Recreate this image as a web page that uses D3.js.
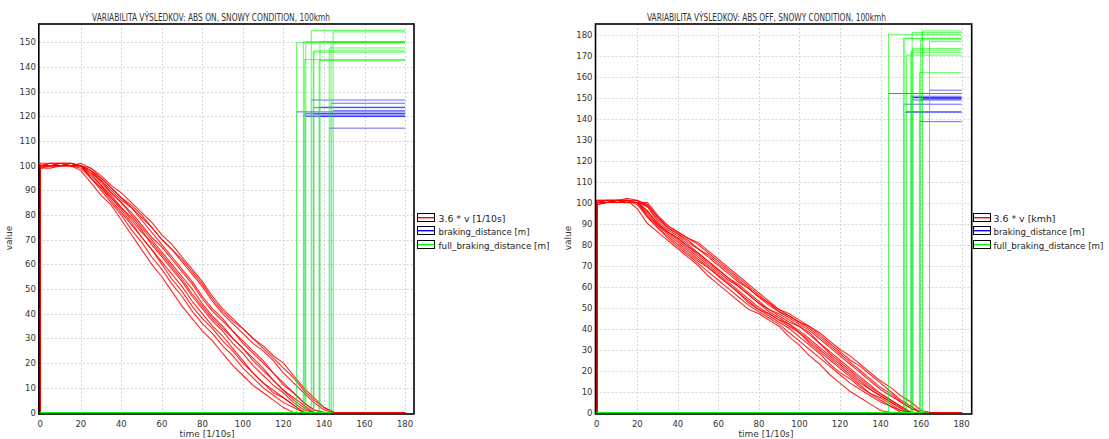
<!DOCTYPE html>
<html><head><meta charset="utf-8">
<script src="https://cdn.jsdelivr.net/npm/d3@7"></script>
<style>body{margin:0;background:#fff}svg{display:block}</style>
</head><body><svg id="c" width="1109" height="439"></svg>
<script>
// ---------- DATA ----------
const timeTicks = [0,20,40,60,80,100,120,140,160,180];
const leftValueTicks = [0,10,20,30,40,50,60,70,80,90,100,110,120,130,140,150];
const rightValueTicks = [0,10,20,30,40,50,60,70,80,90,100,110,120,130,140,150,160,170,180];
const leftTitle = "VARIABILITA VÝSLEDKOV: ABS ON, SNOWY CONDITION, 100kmh";
const rightTitle = "VARIABILITA VÝSLEDKOV: ABS OFF, SNOWY CONDITION, 100kmh";
const leftLegend = ["3.6 * v [1/10s]", "braking_distance [m]", "full_braking_distance [m]"];
const rightLegend = ["3.6 * v [kmh]", "braking_distance [m]", "full_braking_distance [m]"];
const xTitle = "time [1/10s]";
const yTitle = "value";
const endTime = 180;
const sampleStep = 5; // speed samples every 5 time units, starting at t = 0

// ABS ON: 3.6*v samples per run
const leftSpeed = [
  [100,101,101,100,98,93,88,84,78,72,66,60,55,49,43,38,33,29,24,19,15,11,8,5,2,0],
  [100,100,101,101,100,95,90,85,80,74,69,63,58,52,47,41,36,32,27,23,18,14,10,7,4,2,0],
  [99,100,100,101,100,97,92,87,82,77,71,66,60,54,49,43,38,34,29,25,20,16,12,9,6,3,0],
  [100,100,100,100,100,95,91,86,81,76,71,66,61,56,51,45,40,35,31,26,21,16,12,8,6,3,0],
  [100,101,101,101,100,96,92,88,83,79,74,68,63,58,53,47,42,37,33,28,24,19,15,11,8,4,1,0],
  [99,99,100,100,100,98,94,89,85,80,75,70,65,60,55,50,44,39,35,30,26,21,17,13,9,5,2,0],
  [100,100,101,100,99,95,91,87,83,78,73,69,64,59,54,48,43,38,34,30,26,22,18,13,9,6,3,0],
  [100,100,100,101,100,98,93,89,85,81,76,71,67,62,57,52,46,41,37,33,28,24,20,16,12,8,4,1,0],
  [101,101,100,100,100,99,95,91,87,83,78,73,68,63,58,53,47,42,38,33,29,25,21,16,11,8,4,1,0],
  [100,100,100,100,100,98,95,91,87,84,80,75,70,66,61,56,51,45,40,36,32,28,25,21,16,12,8,4,1,0],
  [100,100,100,100,101,99,96,92,89,85,81,77,72,68,63,58,53,47,42,38,34,30,26,22,18,14,9,5,2,0],
  [100,100,100,100,100,97,94,90,86,83,79,75,70,66,62,57,52,46,41,37,34,30,27,23,20,15,10,6,2,0]
];
const leftStopTime    = [126.5,129.8,130.5,131.0,133.7,134.7,135.0,137.6,138.0,142.6,143.5,144.5];
const leftBraking     = [121.8,120.5,121.2,119.9,126.6,123.5,121.0,123.7,120.0,115.2,125.3,122.3];
const leftFullBraking = [149.8,150.2,143.0,150.0,154.8,146.0,146.5,142.6,150.3,147.7,149.8,154.2];

// ABS OFF
const rightSpeed = [
  [100,100,101,101,97,90,86,82,78,74,70,65,61,57,53,49,47,44,41,36,32,27,23,18,14,10,7,4,1,0],
  [100,101,101,100,100,93,88,83,79,75,71,67,63,59,55,51,48,45,42,38,34,30,26,22,18,14,11,8,5,3,0],
  [99,100,100,100,100,94,89,85,81,77,73,69,65,61,57,52,49,46,43,40,36,32,28,23,19,16,12,9,6,3,1,0],
  [100,100,100,101,99,93,88,84,80,76,72,69,65,61,57,53,49,47,44,41,38,33,29,25,21,17,13,9,7,4,1,0],
  [101,101,101,100,100,96,90,86,82,78,74,70,66,62,58,54,50,47,44,42,38,34,30,26,22,18,14,11,8,5,2,0],
  [100,100,100,100,100,96,90,86,83,79,75,71,67,63,60,56,52,48,45,42,39,35,31,27,23,19,15,11,8,5,2,0],
  [100,100,101,102,101,98,91,87,84,80,76,72,68,64,60,56,52,49,46,43,41,37,33,28,24,20,16,12,9,6,3,0],
  [100,101,101,101,100,95,89,86,83,79,76,72,68,64,61,57,53,49,47,44,41,38,33,29,25,21,17,13,9,6,3,0],
  [100,100,100,100,100,99,93,88,85,81,78,74,70,66,62,59,55,51,48,45,42,39,35,31,27,23,19,15,11,8,5,2,0],
  [101,101,100,100,100,98,92,88,85,82,78,75,71,67,63,59,55,52,48,46,43,40,36,32,28,24,20,16,12,9,5,2,0],
  [99,100,100,100,100,100,94,89,86,83,80,76,72,68,64,60,56,52,49,46,43,41,37,33,29,25,22,18,14,10,6,3,0],
  [100,100,101,101,101,99,93,89,86,83,81,77,73,69,65,61,57,53,49,47,44,41,38,34,30,27,23,19,15,12,8,5,1,0]
];
const rightStopTime    = [143.9,151.3,152.0,152.9,154.9,155.4,155.6,156.0,159.2,159.8,160.7,164.2];
const rightBraking     = [151.9,146.8,143.0,143.2,150.6,148.8,149.9,150.0,138.5,149.2,149.6,153.5];
const rightFullBraking = [180.1,178.3,178.0,170.2,171.5,172.6,181.0,173.4,161.8,177.5,181.7,176.6];

// ---------- DRAWING ----------
const svg = d3.select("#c");
const FONT = "'DejaVu Sans', Verdana, sans-serif";
const RED = "#ff0000", BLUE = "#0000ff", GREEN = "#00ff00";

function drawChart(o) {
  const g = svg.append("g");
  const x = d3.scaleLinear().domain(o.xDomain).range([o.x0, o.right]);
  const y = d3.scaleLinear().domain(o.yDomain).range([o.bottom, o.top]);

  // grid
  g.selectAll(".vg").data(timeTicks.filter(t => t > 0)).join("line")
    .attr("x1", d => Math.round(x(d)) + 0.5).attr("x2", d => Math.round(x(d)) + 0.5)
    .attr("y1", o.top).attr("y2", o.bottom)
    .attr("stroke", "#d4d4d4").attr("stroke-dasharray", "2,2").attr("stroke-width", 1);
  g.selectAll(".hg").data(o.yTicks.filter(t => t > 0)).join("line")
    .attr("x1", o.left).attr("x2", o.right)
    .attr("y1", d => Math.round(y(d)) + 0.5).attr("y2", d => Math.round(y(d)) + 0.5)
    .attr("stroke", "#d4d4d4").attr("stroke-dasharray", "2,2").attr("stroke-width", 1);

  const line = d3.line().x(d => x(d[0])).y(d => y(d[1]));

  // speed curves
  o.speed.forEach(run => {
    const pts = [[0, 0]].concat(run.map((v, k) => [k * sampleStep, v]));
    pts.push([endTime, 0]);
    g.append("path").attr("d", line(pts)).attr("fill", "none")
      .attr("stroke", RED).attr("stroke-opacity", 0.85).attr("stroke-width", 1.1);
  });
  // braking distance: faint rise, stronger plateau
  o.stop.forEach((t, i) => {
    g.append("path").attr("d", line([[0, 0], [t, 0], [t, o.brake[i]]])).attr("fill", "none")
      .attr("stroke", BLUE).attr("stroke-opacity", 0.15).attr("stroke-width", 1);
    g.append("path").attr("d", line([[t, o.brake[i]], [endTime, o.brake[i]]])).attr("fill", "none")
      .attr("stroke", BLUE).attr("stroke-opacity", 0.6).attr("stroke-width", 1);
  });
  // full braking distance
  o.stop.forEach((t, i) => {
    const pts = [[0, 0], [t, 0], [t, o.full[i]], [endTime, o.full[i]]];
    g.append("path").attr("d", line(pts)).attr("fill", "none")
      .attr("stroke", GREEN).attr("stroke-opacity", 0.65).attr("stroke-width", 1);
  });

  // frame
  g.append("rect").attr("x", o.left).attr("y", o.top)
    .attr("width", o.right - o.left).attr("height", o.bottom - o.top)
    .attr("fill", "none").attr("stroke", "#000").attr("stroke-width", 1.6);

  // tick labels
  g.selectAll(".xt").data(timeTicks).join("text")
    .attr("x", d => x(d)).attr("y", o.bottom + 12.5)
    .attr("text-anchor", "middle").attr("font-family", FONT).attr("font-size", 8.5)
    .attr("fill", "#333").text(d => d);
  g.selectAll(".yt").data(o.yTicks).join("text")
    .attr("x", o.left - 3).attr("y", d => y(d) + 3)
    .attr("text-anchor", "end").attr("font-family", FONT).attr("font-size", 8.5)
    .attr("fill", "#333").text(d => d);

  // titles
  g.append("text").attr("x", o.titleX).attr("y", 20.5)
    .attr("font-family", FONT).attr("font-size", 10.5).attr("fill", "#333")
    .attr("textLength", o.titleW).attr("lengthAdjust", "spacingAndGlyphs").text(o.title);
  g.append("text").attr("x", o.xTitleX).attr("y", 437).attr("text-anchor", "middle")
    .attr("font-family", FONT).attr("font-size", 9).attr("fill", "#333").text(xTitle);
  g.append("text").attr("transform", `translate(${o.yTitleX},238) rotate(-90)`)
    .attr("text-anchor", "middle").attr("font-family", FONT).attr("font-size", 9)
    .attr("fill", "#333").text(yTitle);

  // legend
  const colors = [RED, BLUE, GREEN];
  o.legend.forEach((lab, i) => {
    const ly = Math.round(213 + i * 13.4);
    g.append("rect").attr("x", o.legX + 0.5).attr("y", ly + 0.5).attr("width", 17).attr("height", 8)
      .attr("fill", "#fff").attr("stroke", "#000").attr("stroke-width", 1);
    g.append("rect").attr("x", o.legX + 1).attr("y", ly + 4).attr("width", 16.5).attr("height", 1.4)
      .attr("fill", colors[i]);
    g.append("text").attr("x", o.legX + o.legGap).attr("y", ly + 8.5)
      .attr("font-family", FONT).attr("font-size", 9).attr("fill", "#222")
      .attr("textLength", o.legW[i]).attr("lengthAdjust", "spacingAndGlyphs").text(lab);
  });
}

drawChart({
  left: 38.8, x0: 40.3, right: 414, top: 24, bottom: 414,
  xDomain: [0, 184.4], yDomain: [-0.6, 157.4], yTicks: leftValueTicks,
  speed: leftSpeed, stop: leftStopTime, brake: leftBraking, full: leftFullBraking,
  title: leftTitle, titleX: 92, titleW: 238, xTitleX: 207, yTitleX: 12,
  legend: leftLegend, legX: 417, legGap: 21.5, legW: [67, 91, 111]
});
drawChart({
  left: 595.5, x0: 596.8, right: 971.7, top: 24, bottom: 414,
  xDomain: [0, 185.0], yDomain: [-0.7, 185], yTicks: rightValueTicks,
  speed: rightSpeed, stop: rightStopTime, brake: rightBraking, full: rightFullBraking,
  title: rightTitle, titleX: 647, titleW: 239, xTitleX: 766, yTitleX: 571,
  legend: rightLegend, legX: 973, legGap: 20.5, legW: [62, 91, 110]
});
</script></body></html>
